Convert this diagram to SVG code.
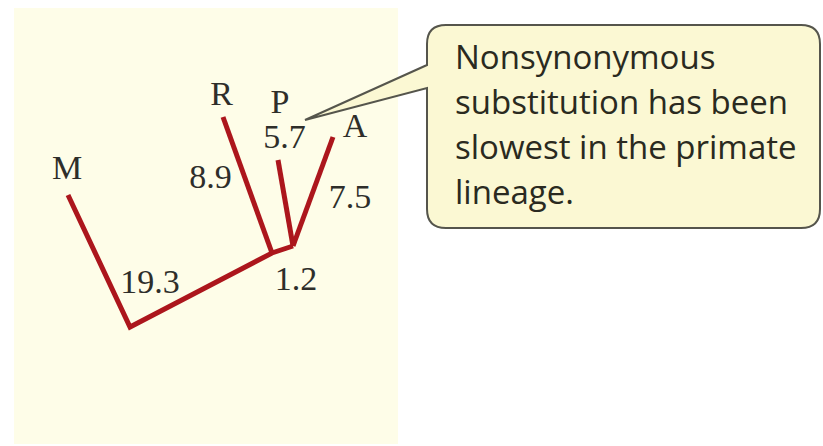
<svg xmlns="http://www.w3.org/2000/svg" width="823" height="446" viewBox="0 0 823 446">
  <style>
    .branch { stroke: #ac161c; stroke-width: 5; fill: none; stroke-linecap: butt; stroke-linejoin: miter; }
    .lbl { font-family: "Liberation Serif", "Times New Roman", serif; font-size: 34px; fill: #2e2e2a; text-anchor: middle; }
    .note { font-family: "Open Sans", "Noto Sans", sans-serif; font-size: 33px; fill: #2a2a20; }
    .callout { fill: #fbf8d3; stroke: #55554c; stroke-width: 2; }
  </style>
  <rect x="0" y="0" width="823" height="446" fill="#ffffff"/>
  <rect id="panel" x="14" y="8" width="384" height="436" fill="#fefde8"/>

  <g id="connectors">
    <polyline class="branch" points="68,195 130,327 272,253 293,246"/>
    <line class="branch" x1="223" y1="117" x2="272" y2="253"/>
    <line class="branch" x1="278" y1="160" x2="293" y2="246"/>
    <line class="branch" x1="333" y1="137" x2="293" y2="246"/>
  </g>

  <g id="node-M"><text class="lbl" x="67" y="179">M</text></g>
  <g id="node-R"><text class="lbl" x="221.5" y="105">R</text></g>
  <g id="node-P"><text class="lbl" x="280" y="113">P</text></g>
  <g id="node-A"><text class="lbl" x="355" y="137">A</text></g>

  <g id="branch-labels">
    <text class="lbl" x="284.5" y="148">5.7</text>
    <text class="lbl" x="210.5" y="188">8.9</text>
    <text class="lbl" x="350" y="208">7.5</text>
    <text class="lbl" x="150" y="293">19.3</text>
    <text class="lbl" x="296" y="290">1.2</text>
  </g>

  <g id="callout">
    <path class="callout" d="M446,25 H801 Q820,25 820,44 V209 Q820,228 801,228 H446 Q427,228 427,209 V88 L305,120 L427,65 V44 Q427,25 446,25 Z"/>
    <text class="note" x="455" y="69">Nonsynonymous</text>
    <text class="note" x="455" y="114">substitution has been</text>
    <text class="note" x="455" y="159">slowest in the primate</text>
    <text class="note" x="455" y="204">lineage.</text>
  </g>
</svg>
